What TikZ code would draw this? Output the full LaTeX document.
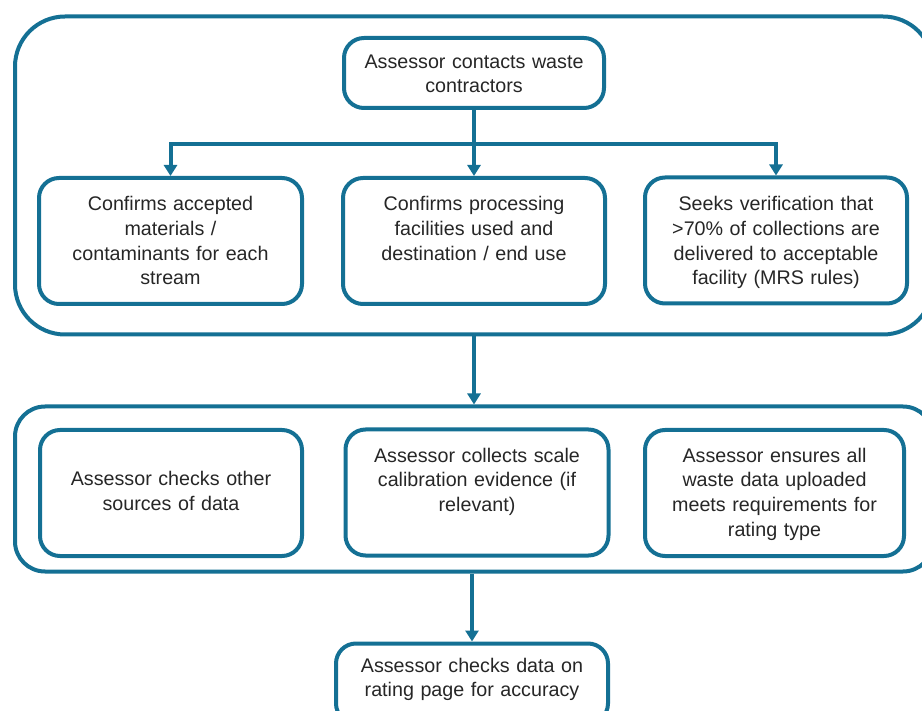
\documentclass[tikz,border=0pt]{standalone}
\usepackage{fontspec}
\setmainfont{Liberation Sans}
\usetikzlibrary{arrows.meta}
\definecolor{teal}{RGB}{20,112,148}
\definecolor{ink}{RGB}{38,38,38}
\tikzset{
  box/.style={draw=teal, line width=4pt, rounded corners=20pt, inner sep=0pt,
              minimum width=#1, minimum height=126pt},
  box/.default=262pt,
  group/.style={draw=teal, line width=4pt, inner sep=0pt},
  txt/.style={font=\fontsize{19.7}{24.7}\selectfont, text=ink, align=center,
              text width=258pt, inner sep=0pt, anchor=north},
  conn/.style={draw=teal, line width=4pt,
               -{Triangle[width=13pt,length=11pt]}},
}
\begin{document}
\begin{tikzpicture}[x=1pt,y=-1pt]
\useasboundingbox (0,0) rectangle (922,711);
\clip (0,0) rectangle (922,711);

% outer groups
\node[group, rounded corners=50pt, minimum width=918pt, minimum height=318pt]
  (g1) at (474,175.5) {};
\node[group, rounded corners=30pt, minimum width=918pt, minimum height=165pt]
  (g2) at (474,489) {};

% first stage
\node[box, minimum height=70pt, minimum width=260pt] (top) at (474,73) {};
\node[txt] (top-t) at (474,50.7) {\strut Assessor contacts waste\\contractors};

\node[box=263pt] (r1a) at (170.5,241) {};
\node[box] (r1b) at (474,241) {};
\node[box] (r1c) at (776,240.5) {};
\node[txt] (r1a-t) at (170.5,193.2) {\strut Confirms accepted\\materials /\\contaminants for each\\stream};
\node[txt] (r1b-t) at (474,193.2) {\strut Confirms processing\\facilities used and\\destination / end use};
\node[txt] (r1c-t) at (776,193.2) {\strut Seeks verification that\\>70\% of collections are\\delivered to acceptable\\facility (MRS rules)};

% second stage
\node[box] (r2a) at (171,493) {};
\node[box=263pt] (r2b) at (477,492.5) {};
\node[box=259pt] (r2c) at (774.5,493) {};
\node[txt] (r2a-t) at (171,468.2) {\strut Assessor checks other\\sources of data};
\node[txt] (r2b-t) at (477,444.7) {\strut Assessor collects scale\\calibration evidence (if\\relevant)};
\node[txt] (r2c-t) at (774.5,444.7) {\strut Assessor ensures all\\waste data uploaded\\meets requirements for\\rating type};

% final check
\node[box=272pt, minimum height=80pt] (last) at (472,683.5) {};
\node[txt] (last-t) at (472,654.7) {\strut Assessor checks data on\\rating page for accuracy};

% connectors
\coordinate (j) at (top.south |- 0,144);
\draw[conn] (top.south) -- (r1b.north);
\draw[conn] (j) -| (r1a.north);
\draw[conn] (j) -| (r1c.north);
\draw[conn] (g1.south) -- (g2.north);
\draw[conn] (g2.south -| last.north) -- (last.north);
\end{tikzpicture}
\end{document}
